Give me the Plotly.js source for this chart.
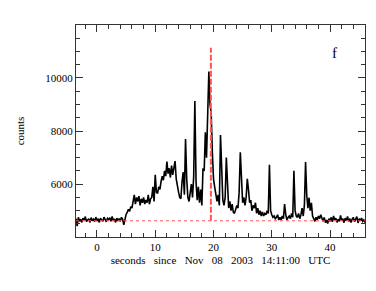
<!DOCTYPE html>
<html>
<head>
<meta charset="utf-8">
<script src="https://cdn.plot.ly/plotly-3.0.1.min.js"></script>
<style>
  html, body { margin: 0; padding: 0; background: #fff; }
  #plot { width: 376px; height: 291px; }
</style>
</head>
<body>
<div id="plot"></div>
<script>
// light curve sampled every 0.2 s starting at -3.6 s (one row = one second)
var startTime = -3.6;
var sampleStep = 0.2;
var counts = [
    4700, 4420, 4750, 4600, 4680,
    4560, 4720, 4640, 4780, 4590,
    4650, 4700, 4560, 4740, 4620,
    4680, 4590, 4760, 4610, 4700,
    4560, 4720, 4650, 4600, 4760,
    4640, 4580, 4710, 4660, 4740,
    4600, 4780, 4620, 4690, 4560,
    4720, 4640, 4700, 4600, 4750,
    4680, 4470, 4720, 4860, 4950,
    5050, 4980, 5150, 5100, 5300,
    5600, 5250, 5500, 5350, 5550,
    5200, 5450, 5300, 5500, 5250,
    5400, 5300, 5600, 5250, 5450,
    5500, 5900, 5350, 6350, 5700,
    5650, 5900, 5800, 6100, 6300,
    6150, 6500, 6300, 6850, 6400,
    6600, 6250, 6700, 6350, 6550,
    6870, 6200, 5900, 5700, 5500,
    5450, 6100, 6450, 5600, 7700,
    6200, 5500, 5350, 5700, 6000,
    5500, 6300, 9130, 6100, 5400,
    5900, 5300, 5800, 5200, 6600,
    6500, 7950, 7000, 8450, 10240,
    9000, 8700, 7200, 6200, 5900,
    5500, 5350, 5600, 5200, 7850,
    6300, 5400, 5200, 5500, 7000,
    5800, 5100, 5350, 5000, 5250,
    4950, 4900, 5050, 5200, 5100,
    5700, 7200, 5800, 5300, 5500,
    5200, 5500, 6200, 5800, 5300,
    5400, 5000, 5200, 5100, 5300,
    4900, 5100, 4850, 5000, 4800,
    4950, 4800, 4900, 4850, 5000,
    4900, 6730, 5000, 4850, 4750,
    4800, 4700, 4750, 4850, 4650,
    4750, 4650, 4800, 4700, 5250,
    4850, 4650, 4750, 4800, 4700,
    4900, 4750, 6500, 5000, 4800,
    4750, 4900, 4700, 4850, 5100,
    4800, 5200, 6830, 5600, 5100,
    5490, 5000, 5300, 4800, 4700,
    4600, 4750, 4650, 4800, 4700,
    4850, 4700, 4600, 4750, 4550,
    4650, 4520, 4700, 4600, 4750,
    4580, 4800, 4650, 4720, 4560,
    4680, 4600, 4820, 4640, 4700,
    4550, 4720, 4620, 4780, 4600,
    4700, 4560, 4680, 4750, 4590,
    4660, 4780, 4540, 4700, 4620,
    4720, 4600, 4650, 4560, 4700
];

// red markers: background level and peak time
var backgroundX = [-3.6, 46];
var backgroundY = [4620, 4620];
var peakX = [19.55, 19.55];
var peakY = [4620, 11140];

var times = counts.map(function (c, i) { return startTime + i * sampleStep; });

var serif = "Liberation Serif, Times New Roman, serif";
var sp = "\u00a0\u00a0\u00a0";

var curve = {
    x: times,
    y: counts,
    mode: 'lines',
    type: 'scatter',
    line: { color: '#000', width: 1.6 },
    hoverinfo: 'skip'
};

var background = {
    x: backgroundX,
    y: backgroundY,
    mode: 'lines',
    type: 'scatter',
    line: { color: '#ff5555', width: 1, dash: 'dot' }
};

var peak = {
    x: peakX,
    y: peakY,
    mode: 'lines',
    type: 'scatter',
    line: { color: '#ff5555', width: 2, dash: '6px,2px' }
};

var axisCommon = {
    showgrid: false,
    zeroline: false,
    showline: true,
    linecolor: '#333',
    linewidth: 1,
    mirror: 'allticks',
    ticks: 'inside',
    ticklen: 7,
    tickwidth: 1,
    tickcolor: '#333',
    tickformat: 'd',
    tickfont: { family: serif, size: 11, color: '#000' }
};

var layout = {
    width: 376,
    height: 291,
    margin: { l: 76, r: 11, t: 25, b: 54 },
    paper_bgcolor: '#fff',
    plot_bgcolor: '#fff',
    showlegend: false,
    xaxis: Object.assign({}, axisCommon, {
        range: [-3.6, 46],
        dtick: 10,
        tick0: 0,
        minor: { dtick: 2, ticks: 'inside', ticklen: 4, tickcolor: '#333' },
        title: {
            text: 'seconds' + sp + 'since' + sp + 'Nov' + sp + '08' + sp + '2003' + sp + '14:11:00' + sp + 'UTC',
            font: { family: serif, size: 11, color: '#000' },
            standoff: 4
        }
    }),
    yaxis: Object.assign({}, axisCommon, {
        range: [4010, 11995],
        dtick: 2000,
        tick0: 0,
        minor: { dtick: 500, ticks: 'inside', ticklen: 4, tickcolor: '#333' },
        title: {
            text: 'counts',
            font: { family: serif, size: 11, color: '#000' },
            standoff: 18
        }
    }),
    annotations: [{
        xref: 'paper', yref: 'paper',
        x: 0.91, y: 0.915,
        text: 'f',
        showarrow: false,
        font: { family: serif, size: 15, color: '#000' }
    }]
};

Plotly.newPlot('plot', [curve, background, peak], layout, { displayModeBar: false, staticPlot: true });
</script>
</body>
</html>
